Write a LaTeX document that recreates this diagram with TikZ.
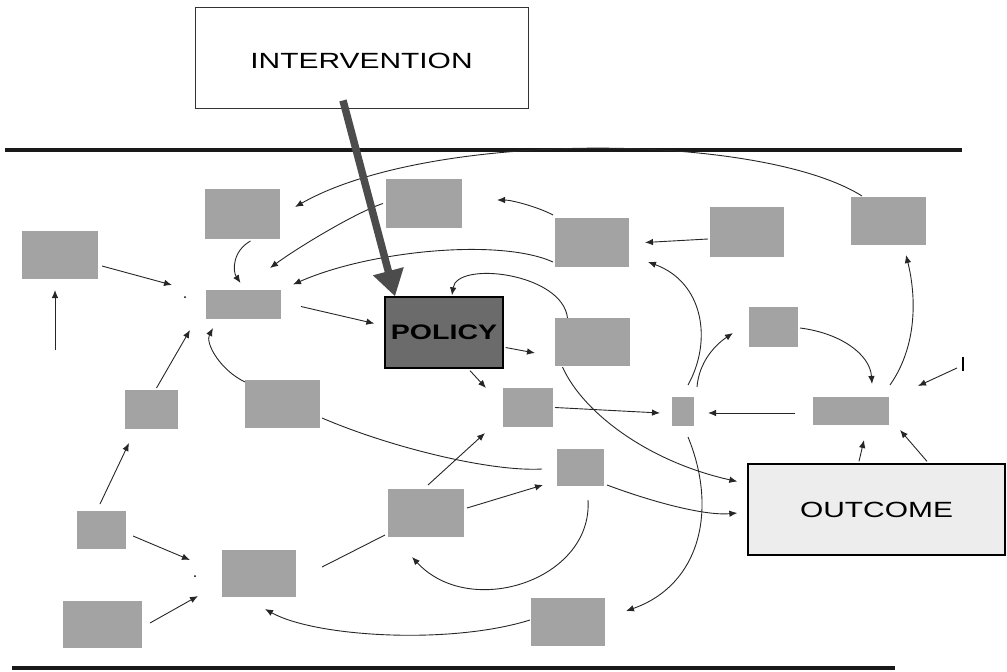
\documentclass[tikz,border=0pt]{standalone}
\usepackage{fontspec}
\newfontfamily\labelfont[FakeStretch=1.36]{Liberation Sans}
\usetikzlibrary{arrows.meta, backgrounds}

\begin{document}
\begin{tikzpicture}[x=1pt, y=-1pt,
	factor/.style={rectangle, fill=black!36, inner sep=0pt, outer sep=0pt},
	link/.style={-{Latex[length=8pt,width=6.5pt]}, line width=0.9pt, black!85},
	rule/.style={line width=3.2pt, black!90}]

	\useasboundingbox (0,0) rectangle (1007,672);

	\node[rectangle,
		draw=black!80,
		line width=0.9pt,
		fill=white,
		minimum width=333,
		minimum height=101,
		inner sep=0pt,
		text height=23pt,
		font={\labelfont\fontsize{22}{26}\selectfont}
	] (intervention) at (361.5,57.5) {INTERVENTION};

	\node[rectangle,
		draw=black,
		line width=1.3pt,
		fill=black!58,
		minimum width=118,
		minimum height=71,
		inner sep=0pt,
		font={\labelfont\bfseries\fontsize{21}{25}\selectfont}
	] (policy) at (444,332.5) {POLICY};

	\node[rectangle,
		draw=black,
		line width=1.3pt,
		fill=black!7,
		minimum width=257,
		minimum height=91,
		inner sep=0pt,
		font={\labelfont\fontsize{22}{26}\selectfont}
	] (outcome) at (876.5,509.5) {OUTCOME};

	\node[factor, minimum width=76, minimum height=48] (f1) at (60,255) {};
	\node[factor, minimum width=75, minimum height=50] (f2) at (242.5,214) {};
	\node[factor, minimum width=75, minimum height=29] (f3) at (243.5,304.5) {};
	\node[factor, minimum width=76, minimum height=49] (f4) at (424,203.5) {};
	\node[factor, minimum width=74, minimum height=49] (f5) at (592,242.5) {};
	\node[factor, minimum width=74, minimum height=50] (f6) at (747,232) {};
	\node[factor, minimum width=75, minimum height=48] (f7) at (888.5,221) {};
	\node[factor, minimum width=75, minimum height=48] (f8) at (592.5,342) {};
	\node[factor, minimum width=49, minimum height=40] (f9) at (773.5,327) {};
	\node[factor, minimum width=22, minimum height=29] (f10) at (683,411.5) {};
	\node[factor, minimum width=76, minimum height=28] (f11) at (851,411) {};
	\node[factor, minimum width=50, minimum height=39] (f12) at (528,407.5) {};
	\node[factor, minimum width=53, minimum height=39] (f13) at (151.5,409.5) {};
	\node[factor, minimum width=75, minimum height=48] (f14) at (282.5,404) {};
	\node[factor, minimum width=47, minimum height=37] (f15) at (580.5,467.5) {};
	\node[factor, minimum width=76, minimum height=48] (f16) at (426,513) {};
	\node[factor, minimum width=49, minimum height=38] (f17) at (101.5,530) {};
	\node[factor, minimum width=74, minimum height=47] (f18) at (259,573.5) {};
	\node[factor, minimum width=79, minimum height=47] (f19) at (102.5,624.5) {};
	\node[factor, minimum width=74, minimum height=48] (f20) at (568,622) {};

	\coordinate (j1) at (185,297);
	\coordinate (j2) at (195,576);
	\coordinate (e1) at (497,200);
	\coordinate (e2) at (55,350);
	\coordinate (e3) at (957,368);
	\coordinate (e4) at (322,567);

	\fill (j1) circle (1);
	\fill (j2) circle (1);
	\draw[line width=1.4pt] (963,357) -- (963,371);

	\begin{scope}[on background layer]
		\draw[rule] (5,150) -- (962,150);
		\draw[rule] (12,668) -- (895,668);

		\draw[link] ([shift={(4,11)}]f1.east) -- ([shift={(-13,-12)}]j1);
		\draw[link] ([shift={(5,-2)}]f13.north) -- ([shift={(5,33)}]j1);
		\draw[link] (e2) -- ([shift={(-5,11)}]f1.south);
		\draw[link] ([shift={(8,2)}]f2.south) .. controls +(-18,10) and +(-8,-12) .. ([shift={(-3,-7)}]f3.north);
		\draw[link] ([shift={(11,-1)}]f7.north west) .. controls +(-102,-64) and +(135,-77) .. ([shift={(15,-7)}]f2.east);
		\draw[link] ([shift={(-3,0)}]f4.west) .. controls +(-25,8) and +(30,-22) .. ([shift={(-11,-22)}]f3.north east);
		\draw[link] ([shift={(-2,-5)}]f5.south west) .. controls +(-53,-24) and +(77,-34) .. ([shift={(12,-20)}]f3.east);
		\draw[link] ([shift={(20,2)}]f3.east) -- ([shift={(-10,-9)}]policy.west);
		\draw[link] ([shift={(0,2)}]f14.north west) .. controls +(-25,-12) and +(-8,15) .. ([shift={(7,9)}]f3.south west);

		\draw[link] ([shift={(2,15)}]policy.east) -- ([shift={(-20,11)}]f8.west);
		\draw[link] ([shift={(26,2)}]policy.south) -- ([shift={(-17,0)}]f12.north west);
		\draw[link] ([shift={(-25,0)}]f8.north) .. controls +(-5,-45) and +(5,-35) .. ([shift={(8,-1)}]policy.north);
		\draw[link] ([shift={(-2,-3)}]f5.north west) .. controls +(-15,-8) and +(15,0) .. (e1);
		\draw[link] ([shift={(-2,7)}]f6.west) -- ([shift={(16,0)}]f5.east);

		\draw[link] ([shift={(5,-12)}]f10.north) .. controls +(25,-45) and +(55,20) .. ([shift={(19,-5)}]f5.south east);
		\draw[link] ([shift={(3,-10)}]f10.north east) .. controls +(2,-25) and +(-18,12) .. ([shift={(-16,6)}]f9.west);
		\draw[link] ([shift={(2,1)}]f9.east) .. controls +(40,5) and +(-2,-30) .. ([shift={(21,-13)}]f11.north);
		\draw[link] ([shift={(1,-12)}]f11.north east) .. controls +(28,-40) and +(10,40) .. ([shift={(17.5,10)}]f7.south);
		\draw[link] (e3) -- ([shift={(29,-11)}]f11.north east);
		\draw[link] ([shift={(-18,2)}]f11.west) -- ([shift={(14,1.5)}]f10.east);
		\draw[link] ([shift={(2,0)}]f12.east) -- ([shift={(-12,1.5)}]f10.west);
		\draw[link] ([shift={(-17.5,-2)}]outcome.north) -- ([shift={(13,15)}]f11.south);
		\draw[link] ([shift={(50.5,-2)}]outcome.north) -- ([shift={(11,5)}]f11.south east);

		\draw[link] ([shift={(-30,1)}]f8.south) .. controls +(20,45) and +(-90,-20) .. ([shift={(-10,-28)}]outcome.west);
		\draw[link, -] ([shift={(2,14)}]f14.east) .. controls +(70,30) and +(-50,3) .. ([shift={(-15,1.5)}]f15.west);
		\draw[link] ([shift={(3,-1)}]f15.south east) .. controls +(40,15) and +(-35,3) .. ([shift={(-10,3.5)}]outcome.west);
		\draw[link] ([shift={(2,-4)}]f16.north) -- ([shift={(-18,6)}]f12.south west);
		\draw[link] ([shift={(3,-5)}]f16.east) -- ([shift={(-14,-1)}]f15.south west);
		\draw[link, -] ([shift={(-3,-2)}]f16.south west) -- (e4);
		\draw[link] ([shift={(7.5,14)}]f15.south) .. controls +(5,80) and +(58,63) .. ([shift={(-14,20)}]f16.south);
		\draw[link] ([shift={(-1,-2)}]f20.west) .. controls +(-80,25) and +(50,28) .. ([shift={(6,12)}]f18.south);
		\draw[link] ([shift={(5,11)}]f10.south) .. controls +(30,73) and +(74,-26) .. ([shift={(21,-11)}]f20.east);

		\draw[link] ([shift={(-1.5,-7)}]f17.north) -- ([shift={(-22.5,14)}]f13.south);
		\draw[link] ([shift={(7,6)}]f17.east) -- ([shift={(-5,-16)}]j2);
		\draw[link] ([shift={(8,-1.5)}]f19.east) -- ([shift={(3,20)}]j2);
	\end{scope}

	\draw[-{Triangle[length=26pt,width=30pt]}, line width=7.5pt, black!70] ([shift={(-18.5,-8)}]intervention.south) -- ([shift={(-49,0)}]policy.north);
\end{tikzpicture}
\end{document}
